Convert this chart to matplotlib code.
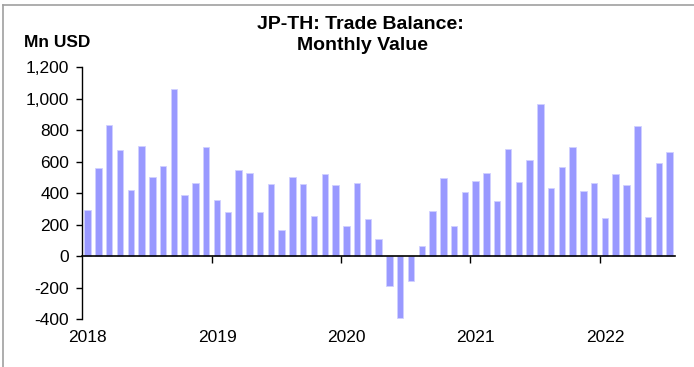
import numpy as np
import matplotlib
matplotlib.use("Agg")
import matplotlib.pyplot as plt
from matplotlib.lines import Line2D

plt.rcParams['font.family'] = ['Liberation Sans', 'DejaVu Sans']

# Monthly JP-TH trade balance, Mn USD, Jan 2018 - Jul 2022
balance = [
    294, 563, 832, 673, 419, 700, 506, 573, 1064, 391, 466, 694,   # 2018
    358, 281, 546, 531, 281, 457, 167, 501, 461, 256, 523, 453,    # 2019
    190, 468, 235, 110, -190, -391, -159, 63, 288, 497, 195, 408,  # 2020
    476, 527, 351, 679, 474, 609, 969, 434, 569, 694, 413, 468,    # 2021
    243, 525, 455, 827, 252, 595, 662,                             # 2022
]
years = ['2018', '2019', '2020', '2021', '2022']
y_ticks = [-400, -200, 0, 200, 400, 600, 800, 1000, 1200]

fig = plt.figure(figsize=(6.94, 3.67), dpi=100)
ax = fig.add_axes([0.1186, 0.130, 0.9726 - 0.1186, 0.8166 - 0.130])

x = np.arange(len(balance))
ax.bar(x, balance, width=0.6, color='#9999ff', edgecolor='#d0d0ff', linewidth=0.6)

ax.set_xlim(-0.5, len(balance) - 0.5)
ax.set_ylim(-400, 1200)
ax.set_yticks(y_ticks)
ax.set_yticklabels([f'{v:,}' for v in y_ticks])
ax.tick_params(axis='y', direction='out', length=4, width=1, color='black',
               labelsize=12.5, pad=5.5)

# zero line carries the year boundary ticks
for s in ['top', 'right']:
    ax.spines[s].set_visible(False)
ax.spines['bottom'].set_position(('data', 0))
ax.spines['bottom'].set_linewidth(1.2)
ax.spines['left'].set_linewidth(1.0)
ax.set_xticks([11.5, 23.5, 35.5, 47.5])
ax.set_xticklabels([])
ax.tick_params(axis='x', direction='out', length=5, width=1, color='black')

# year labels sit below the plot, under each January
sec = ax.secondary_xaxis(0)
sec.set_xticks([i * 12 for i in range(len(years))])
sec.set_xticklabels(years)
sec.tick_params(axis='x', length=0, labelsize=12.5, pad=8)
sec.spines['bottom'].set_visible(False)

fig.text(0.519, 0.932, 'JP-TH: Trade Balance:', ha='center', va='center',
         fontsize=14, fontweight='bold')
fig.text(0.522, 0.877, 'Monthly Value', ha='center', va='center',
         fontsize=14, fontweight='bold')
fig.text(0.035, 0.883, 'Mn USD', ha='left', va='center',
         fontsize=12.5, fontweight='bold')

# grey frame along the top and left edge
fig.add_artist(Line2D([0.005, 1.0], [0.986, 0.986], transform=fig.transFigure,
                      color='#a0a0a0', linewidth=1.2))
fig.add_artist(Line2D([0.005, 0.005], [0.0, 0.986], transform=fig.transFigure,
                      color='#a0a0a0', linewidth=1.2))

fig.savefig('out.png', dpi=100, facecolor='white')
